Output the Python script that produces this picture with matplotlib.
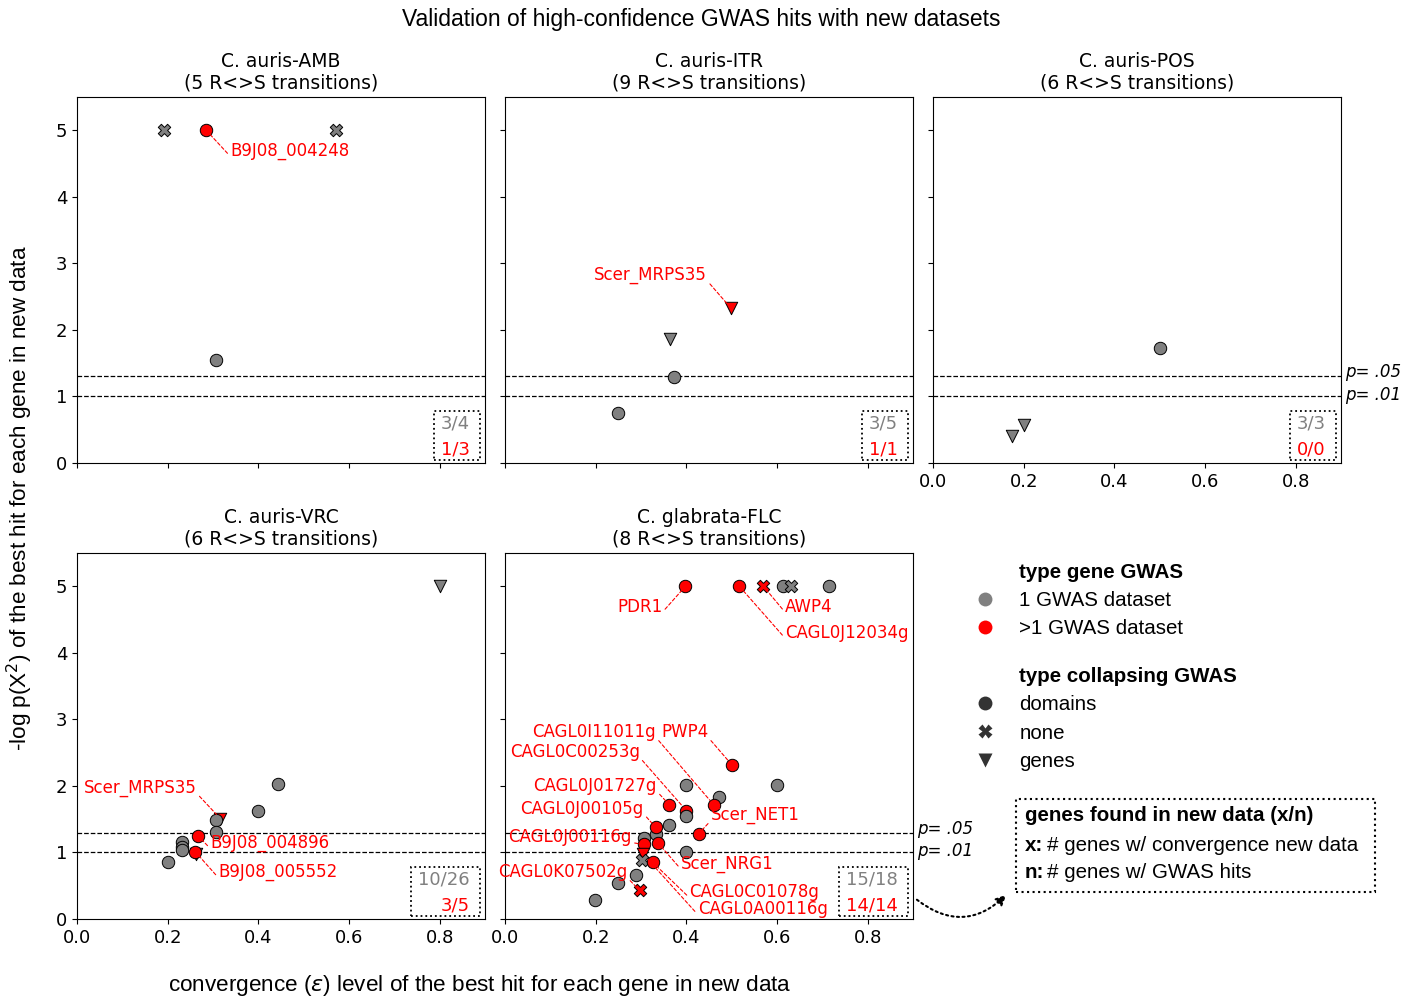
import matplotlib
matplotlib.use('Agg')
import matplotlib.pyplot as plt
from matplotlib.lines import Line2D
from matplotlib.patches import Rectangle, FancyArrowPatch

## Colour scheme
col = {}
col['single'] = '#808080'
col['multi'] = 'red'
col['legend_dark'] = '#333333'

markers = {'domains': 'o', 'none': 'X', 'genes': 'v'}
helv = 'Liberation Sans'

## Data (x = convergence level, y = -log p)
amb_x = [0.191, 0.571, 0.307, 0.285]
amb_y = [5.0, 5.0, 1.55, 5.0]
amb_multi = [0, 0, 0, 1]
amb_type = ['none', 'none', 'domains', 'domains']
amb_gene = ['', '', '', 'B9J08_004248']

itr_x = [0.363, 0.373, 0.249, 0.498]
itr_y = [1.86, 1.29, 0.75, 2.33]
itr_multi = [0, 0, 0, 1]
itr_type = ['genes', 'domains', 'domains', 'genes']
itr_gene = ['', '', '', 'Scer_MRPS35']

pos_x = [0.500, 0.200, 0.174]
pos_y = [1.73, 0.57, 0.40]
pos_multi = [0, 0, 0]
pos_type = ['domains', 'genes', 'genes']
pos_gene = ['', '', '']

vrc_x = [0.800, 0.444, 0.400, 0.316, 0.307, 0.307, 0.267, 0.231, 0.231, 0.231, 0.262, 0.261, 0.200]
vrc_y = [5.0, 2.03, 1.62, 1.51, 1.49, 1.31, 1.25, 1.15, 1.08, 1.03, 0.97, 1.01, 0.85]
vrc_multi = [0, 0, 0, 1, 0, 0, 1, 0, 0, 0, 0, 1, 0]
vrc_type = ['genes', 'domains', 'domains', 'genes', 'domains', 'domains', 'domains',
            'domains', 'domains', 'domains', 'genes', 'domains', 'domains']
vrc_gene = ['', '', '', 'Scer_MRPS35', '', '', 'B9J08_004896', '', '', '', '', 'B9J08_005552', '']

flc_x = [0.714, 0.613, 0.631, 0.570, 0.398, 0.517, 0.500, 0.400, 0.600, 0.471,
         0.460, 0.362, 0.400, 0.400, 0.362, 0.332, 0.332, 0.427, 0.306, 0.306,
         0.338, 0.400, 0.304, 0.302, 0.326, 0.290, 0.249, 0.297, 0.199]
flc_y = [5.0, 5.0, 5.0, 5.0, 5.0, 5.0, 2.32, 2.02, 2.02, 1.84,
         1.72, 1.72, 1.63, 1.55, 1.42, 1.28, 1.38, 1.28, 1.21, 1.12,
         1.14, 1.00, 0.98, 0.88, 0.85, 0.66, 0.54, 0.43, 0.29]
flc_multi = [0, 0, 0, 1, 1, 1, 1, 0, 0, 0,
             1, 1, 1, 0, 0, 0, 1, 1, 0, 1,
             1, 0, 1, 0, 1, 0, 0, 1, 0]
flc_type = ['domains', 'domains', 'none', 'none', 'domains', 'domains', 'domains', 'domains', 'domains', 'domains',
            'domains', 'domains', 'domains', 'domains', 'domains', 'domains', 'domains', 'domains', 'domains', 'domains',
            'domains', 'domains', 'genes', 'none', 'domains', 'domains', 'domains', 'none', 'domains']
flc_gene = ['', '', '', 'AWP4', 'PDR1', 'CAGL0J12034g', 'PWP4', '', '', '',
            'CAGL0I11011g', 'CAGL0J01727g', 'CAGL0C00253g', '', '', '', 'CAGL0J00105g', 'Scer_NET1', '', 'CAGL0J00116g',
            'Scer_NRG1', '', 'CAGL0A00116g', '', 'CAGL0C01078g', '', '', 'CAGL0K07502g', '']

titles = ['C. auris-AMB', 'C. auris-ITR', 'C. auris-POS', 'C. auris-VRC', 'C. glabrata-FLC']
transitions = [5, 9, 6, 6, 8]
found_all = ['3/4', '3/5', '3/3', '10/26', '15/18']
found_multi = ['1/3', '1/1', '0/0', '3/5', '14/14']

# where the gene names sit (data coords, alignment)
label_pos = {
    'B9J08_004248': (0.338, 4.69, 'left'),
    'Scer_MRPS35': (0.446, 2.82, 'right'),
    'Scer_MRPS35_vrc': (0.264, 1.97, 'right'),
    'B9J08_004896': (0.294, 1.14, 'left'),
    'B9J08_005552': (0.312, 0.70, 'left'),
    'PDR1': (0.347, 4.69, 'right'),
    'AWP4': (0.618, 4.69, 'left'),
    'CAGL0J12034g': (0.618, 4.30, 'left'),
    'CAGL0I11011g': (0.333, 2.81, 'right'),
    'PWP4': (0.344, 2.81, 'left'),
    'CAGL0C00253g': (0.297, 2.51, 'right'),
    'CAGL0J01727g': (0.335, 2.00, 'right'),
    'CAGL0J00105g': (0.306, 1.66, 'right'),
    'Scer_NET1': (0.454, 1.56, 'left'),
    'CAGL0J00116g': (0.280, 1.23, 'right'),
    'Scer_NRG1': (0.388, 0.83, 'left'),
    'CAGL0K07502g': (0.270, 0.70, 'right'),
    'CAGL0C01078g': (0.407, 0.40, 'left'),
    'CAGL0A00116g': (0.425, 0.15, 'left'),
}
# labels whose leader line leaves from the far end of the text
line_from_end = ['PWP4']

panels = [
    (amb_x, amb_y, amb_multi, amb_type, amb_gene, ''),
    (itr_x, itr_y, itr_multi, itr_type, itr_gene, ''),
    (pos_x, pos_y, pos_multi, pos_type, pos_gene, ''),
    (vrc_x, vrc_y, vrc_multi, vrc_type, vrc_gene, '_vrc'),
    (flc_x, flc_y, flc_multi, flc_type, flc_gene, ''),
]

fig, axs = plt.subplots(2, 3, figsize=(14.16, 9.96), dpi=100, sharex=True, sharey=True)
fig.subplots_adjust(left=0.0544, right=0.947, top=0.9026, bottom=0.0773, wspace=0.049, hspace=0.246)
axlist = [axs[0, 0], axs[0, 1], axs[0, 2], axs[1, 0], axs[1, 1]]

count_texts = []
for i, (ax, panel) in enumerate(zip(axlist, panels)):
    xs, ys, multi, types, genes, suffix = panel
    z = 3
    for x, y, m, t, g in zip(xs, ys, multi, types, genes):
        ax.scatter(x, y, s=80, marker=markers[t], c=col['multi'] if m else col['single'],
                   edgecolors='black', linewidths=0.7, zorder=z)
        z += 0.01
        if g:
            key = g + suffix if (g + suffix) in label_pos else g
            tx, ty, ha = label_pos[key]
            rel = (0.0, 0.2) if ha == 'left' else (1.0, 0.2)
            if g in line_from_end:
                rel = (1.0 - rel[0], 0.2)
            ax.annotate(g, xy=(x, y), xytext=(tx, ty), color='red', fontsize=12,
                        ha=ha, va='center', zorder=10,
                        arrowprops=dict(arrowstyle='-', color='red', ls=(0, (3, 2)),
                                        lw=0.8, shrinkA=0, shrinkB=4, relpos=rel))
    ax.axhline(1.3, color='black', ls='--', lw=0.9, zorder=1)
    ax.axhline(1.0, color='black', ls='--', lw=0.9, zorder=1)
    ax.set_title('%s\n(%d R<>S transitions)' % (titles[i], transitions[i]), fontsize=13.5)

    # counts (box added after a first draw)
    t1 = ax.text(0.963, 0.109, found_all[i], transform=ax.transAxes, ha='right',
                 va='center', fontsize=13, color=col['single'])
    t2 = ax.text(0.963, 0.038, found_multi[i], transform=ax.transAxes, ha='right',
                 va='center', fontsize=13, color=col['multi'])
    count_texts.append((ax, t1, t2))

for ax in [axs[0, 2], axs[1, 1]]:
    ax.text(1.01, 1.36, 'p= .05', transform=ax.get_yaxis_transform(), style='italic',
            fontsize=12, va='center', ha='left')
    ax.text(1.01, 1.02, 'p= .01', transform=ax.get_yaxis_transform(), style='italic',
            fontsize=12, va='center', ha='left')

axs[0, 0].set_xlim(0, 0.9)
axs[0, 0].set_ylim(0, 5.5)
axs[0, 0].set_xticks([0.0, 0.2, 0.4, 0.6, 0.8])
axs[0, 0].set_yticks([0, 1, 2, 3, 4, 5])
for ax in axs.flat:
    ax.tick_params(labelsize=13)
axs[0, 2].xaxis.set_tick_params(labelbottom=True)

# legend panel
axl = axs[1, 2]
axl.axis('off')
blank = Line2D([], [], ls='none')
h1 = [blank,
      Line2D([], [], ls='none', marker='o', color=col['single'], mec='none', markersize=10),
      Line2D([], [], ls='none', marker='o', color=col['multi'], mec='none', markersize=10)]
l1 = ['type gene GWAS', '1 GWAS dataset', '>1 GWAS dataset']
h2 = [blank,
      Line2D([], [], ls='none', marker='o', color=col['legend_dark'], mec='none', markersize=10),
      Line2D([], [], ls='none', marker='X', color=col['legend_dark'], mec='none', markersize=10),
      Line2D([], [], ls='none', marker='v', color=col['legend_dark'], mec='none', markersize=10)]
l2 = ['type collapsing GWAS', 'domains', 'none', 'genes']
legkw = dict(loc='upper left', frameon=False, borderpad=0, borderaxespad=0,
             handlelength=1, handletextpad=1.15, labelspacing=0.45,
             prop={'family': helv, 'size': 14.8}, bbox_transform=fig.transFigure)
leg1 = axl.legend(h1, l1, bbox_to_anchor=(0.6886, 0.4348), **legkw)
leg1.get_texts()[0].set_fontweight('bold')
axl.add_artist(leg1)
leg2 = axl.legend(h2, l2, bbox_to_anchor=(0.6886, 0.3303), **legkw)
leg2.get_texts()[0].set_fontweight('bold')

# explanation box
fig.add_artist(Rectangle((0.7175, 0.1044), 0.2535, 0.0934, transform=fig.transFigure,
                         fill=False, ls=':', lw=1.5, ec='black'))
fig.text(0.7239, 0.1817, 'genes found in new data (x/n)', family=helv, fontsize=14.8,
         fontweight='bold', va='center')
fig.text(0.7239, 0.1516, 'x:', family=helv, fontsize=14.8, fontweight='bold', va='center')
fig.text(0.7394, 0.1516, '# genes w/ convergence new data', family=helv, fontsize=14.8, va='center')
fig.text(0.7239, 0.1235, 'n:', family=helv, fontsize=14.8, fontweight='bold', va='center')
fig.text(0.7394, 0.1235, '# genes w/ GWAS hits', family=helv, fontsize=14.8, va='center')

fig.add_artist(FancyArrowPatch((0.646, 0.0984), (0.712, 0.1034), transform=fig.transFigure,
                               connectionstyle='arc3,rad=0.45', arrowstyle='-|>',
                               mutation_scale=15, ls=':', lw=1.5, color='black'))

fig.text(0.495, 0.98, 'Validation of high-confidence GWAS hits with new datasets',
         family=helv, fontsize=16.5, ha='center', va='center')
fig.text(0.339, 0.011, r'convergence ($\epsilon$) level of the best hit for each gene in new data',
         family=helv, fontsize=16.2, ha='center', va='center')
fig.text(0.014, 0.5, r'-log p(X$^2$) of the best hit for each gene in new data',
         family=helv, fontsize=16.2, ha='center', va='center', rotation=90)

# dotted boxes round the counts
fig.canvas.draw()
renderer = fig.canvas.get_renderer()
for ax, t1, t2 in count_texts:
    b1 = t1.get_window_extent(renderer)
    b2 = t2.get_window_extent(renderer)
    x0 = min(b1.x0, b2.x0) - 7
    x1 = max(b1.x1, b2.x1) + 10
    y0 = min(b1.y0, b2.y0) - 2
    y1 = max(b1.y1, b2.y1) + 3
    (fx0, fy0), (fx1, fy1) = fig.transFigure.inverted().transform([(x0, y0), (x1, y1)])
    fig.add_artist(Rectangle((fx0, fy0), fx1 - fx0, fy1 - fy0, transform=fig.transFigure,
                             fill=False, ls=':', lw=1.3, ec='black', zorder=5))

fig.savefig('out.png', dpi=100)
